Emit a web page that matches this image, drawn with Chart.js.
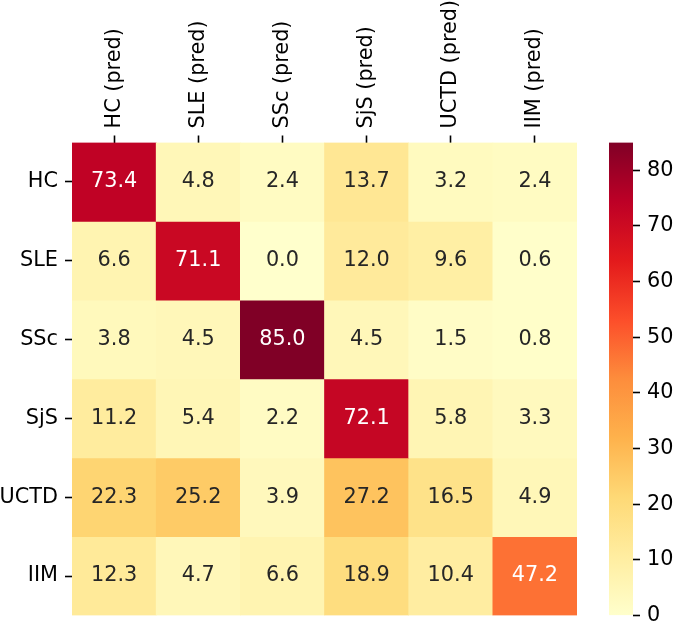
<!DOCTYPE html>
<html>
<head>
<meta charset="utf-8">
<script src="https://cdn.jsdelivr.net/npm/chart.js@4/dist/chart.umd.min.js"></script>
<style>
  body { margin: 0; background: #fff; }
  #wrap { position: relative; width: 676px; height: 624px; }
  #heat { position: absolute; left: 0; top: 0; }
  #cbar { position: absolute; left: 600px; top: 0; }
</style>
</head>
<body>
<div id="wrap">
  <canvas id="heat" width="590" height="624"></canvas>
  <canvas id="cbar" width="76" height="624"></canvas>
</div>
<script>
// true classes (rows) and predicted classes (columns)
var rowLabels = ['HC', 'SLE', 'SSc', 'SjS', 'UCTD', 'IIM'];
var colLabels = ['HC (pred)', 'SLE (pred)', 'SSc (pred)', 'SjS (pred)', 'UCTD (pred)', 'IIM (pred)'];

// percentages per row
var rowHC   = [73.4, 4.8, 2.4, 13.7, 3.2, 2.4];
var rowSLE  = [6.6, 71.1, 0.0, 12.0, 9.6, 0.6];
var rowSSc  = [3.8, 4.5, 85.0, 4.5, 1.5, 0.8];
var rowSjS  = [11.2, 5.4, 2.2, 72.1, 5.8, 3.3];
var rowUCTD = [22.3, 25.2, 3.9, 27.2, 16.5, 4.9];
var rowIIM  = [12.3, 4.7, 6.6, 18.9, 10.4, 47.2];
var rows = [rowHC, rowSLE, rowSSc, rowSjS, rowUCTD, rowIIM];

var cbarTicks = [0, 10, 20, 30, 40, 50, 60, 70, 80];
var vmin = 0, vmax = 85;

// YlOrRd
var cmap = ['#ffffcc', '#ffeda0', '#fed976', '#feb24c', '#fd8d3c', '#fc4e2a', '#e31a1c', '#bd0026', '#800026'];
var FONT = "'DejaVu Sans', sans-serif";
var FSIZE = 20.8;

function hexRgb(h) {
    return [parseInt(h.substr(1, 2), 16), parseInt(h.substr(3, 2), 16), parseInt(h.substr(5, 2), 16)];
}

function colorRgb(v) {
    var t = Math.max(0, Math.min(1, (v - vmin) / (vmax - vmin))) * (cmap.length - 1);
    var i = Math.min(Math.floor(t), cmap.length - 2);
    var f = t - i;
    var a = hexRgb(cmap[i]), b = hexRgb(cmap[i + 1]);
    return [0, 1, 2].map(function(k) { return Math.round(a[k] + (b[k] - a[k]) * f); });
}

function colorFor(v) {
    var c = colorRgb(v);
    return 'rgb(' + c.join(',') + ')';
}

// same rule seaborn uses to pick the annotation colour
function textColorFor(v) {
    var c = colorRgb(v).map(function(x) {
        x = x / 255;
        return x <= 0.03928 ? x / 12.92 : Math.pow((x + 0.055) / 1.055, 2.4);
    });
    var lum = 0.2126 * c[0] + 0.7152 * c[1] + 0.0722 * c[2];
    return lum > 0.408 ? '#262626' : '#ffffff';
}

// fixed axis size, and no extra room for half-labels at the ends
function fixSize(prop, size) {
    return function(scale) {
        scale[prop] = size;
        scale.paddingTop = 0;
        scale.paddingBottom = 0;
        scale.paddingLeft = 0;
        scale.paddingRight = 0;
    };
}

var datasets = rows.map(function(vals, r) {
    return {
        label: rowLabels[r],
        data: vals.map(function() { return [r, r + 1]; }),
        values: vals,
        backgroundColor: vals.map(colorFor),
        borderWidth: 0,
        barPercentage: 1,
        categoryPercentage: 1,
        grouped: false
    };
});

var cellLabels = {
    id: 'cellLabels',
    afterDatasetsDraw: function(chart) {
        var ctx = chart.ctx;
        ctx.save();
        ctx.font = FSIZE + 'px ' + FONT;
        ctx.textAlign = 'center';
        ctx.textBaseline = 'middle';
        chart.data.datasets.forEach(function(ds, r) {
            chart.getDatasetMeta(r).data.forEach(function(bar, c) {
                var v = ds.values[c];
                ctx.fillStyle = textColorFor(v);
                ctx.fillText(v.toFixed(1), bar.x, (bar.y + bar.base) / 2);
            });
        });
        ctx.restore();
    }
};

new Chart(document.getElementById('heat'), {
    type: 'bar',
    data: { labels: colLabels, datasets: datasets },
    options: {
        responsive: false,
        animation: false,
        layout: { autoPadding: false, padding: { left: 0, right: 13, top: 0, bottom: 8.5 } },
        plugins: { legend: { display: false }, tooltip: { enabled: false } },
        scales: {
            x: {
                position: 'top',
                grid: { drawOnChartArea: false, tickLength: 7, tickWidth: 1.6, tickColor: '#000', offset: false },
                border: { display: false },
                ticks: {
                    color: '#000',
                    font: { family: FONT, size: FSIZE },
                    padding: 7,
                    minRotation: 90,
                    maxRotation: 90,
                    labelOffset: 25
                },
                afterFit: fixSize('height', 142.5)
            },
            y: {
                min: 0,
                max: 6,
                reverse: true,
                afterBuildTicks: function(scale) {
                    scale.ticks = rowLabels.map(function(_, i) { return { value: i + 0.5 }; });
                },
                grid: { drawOnChartArea: false, tickLength: 7, tickWidth: 1.6, tickColor: '#000' },
                border: { display: false },
                ticks: {
                    color: '#000',
                    font: { family: FONT, size: FSIZE },
                    padding: 7,
                    callback: function(v) { return rowLabels[Math.floor(v)]; }
                },
                afterFit: fixSize('width', 72)
            }
        }
    },
    plugins: [cellLabels]
});

// colour bar
new Chart(document.getElementById('cbar'), {
    type: 'bar',
    data: {
        labels: [''],
        datasets: [{
            data: [[vmin, vmax]],
            borderWidth: 0,
            barPercentage: 1,
            categoryPercentage: 1,
            backgroundColor: function(context) {
                var chart = context.chart;
                if (!chart.chartArea) return cmap[0];
                var y = chart.scales.y;
                var g = chart.ctx.createLinearGradient(0, y.getPixelForValue(vmin), 0, y.getPixelForValue(vmax));
                cmap.forEach(function(c, i) { g.addColorStop(i / (cmap.length - 1), c); });
                return g;
            }
        }]
    },
    options: {
        responsive: false,
        animation: false,
        layout: { autoPadding: false, padding: { left: 9, right: 0, top: 142.5, bottom: 8.5 } },
        plugins: { legend: { display: false }, tooltip: { enabled: false } },
        scales: {
            x: { display: false },
            y: {
                position: 'right',
                min: vmin,
                max: vmax,
                afterBuildTicks: function(scale) {
                    scale.ticks = cbarTicks.map(function(v) { return { value: v }; });
                },
                grid: { drawOnChartArea: false, tickLength: 7, tickWidth: 1.6, tickColor: '#000' },
                border: { display: false },
                ticks: { color: '#000', font: { family: FONT, size: FSIZE }, padding: 7 },
                afterFit: fixSize('width', 43)
            }
        }
    }
});
</script>
</body>
</html>
